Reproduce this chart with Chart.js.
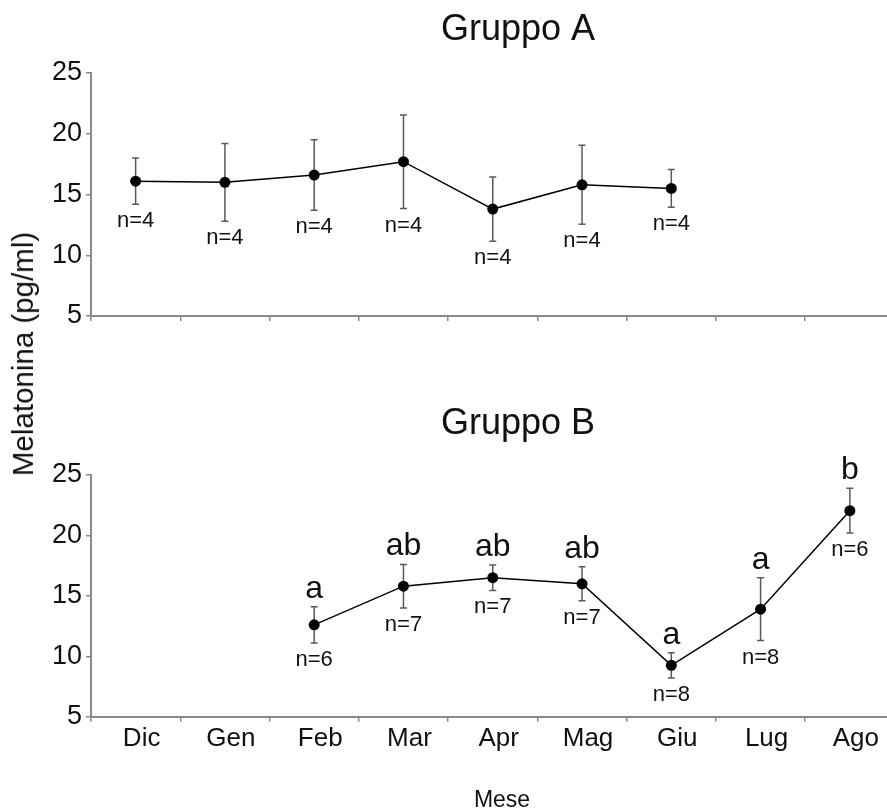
<!DOCTYPE html>
<html>
<head>
<meta charset="utf-8">
<script src="https://cdn.jsdelivr.net/npm/chart.js@4.4.1/dist/chart.umd.min.js"></script>
<style>
html, body { margin: 0; padding: 0; background: #fff; overflow: hidden; }
#wrap { position: relative; width: 887px; height: 810px; overflow: hidden; }
canvas { position: absolute; left: 0; }
#chartA { top: 0; }
#chartB { top: 400px; }
#ylabel {
    position: absolute; left: 23px; top: 354px;
    transform: translate(-50%, -50%) rotate(-90deg);
    font: 29.5px "Liberation Sans", Arial, sans-serif; color: #111; white-space: nowrap;
}
</style>
</head>
<body>
<div id="wrap">
    <canvas id="chartA" width="900" height="340"></canvas>
    <canvas id="chartB" width="900" height="410"></canvas>
    <div id="ylabel">Melatonina (pg/ml)</div>
</div>
<script>
// mesi
const months = ["Dic", "Gen", "Feb", "Mar", "Apr", "Mag", "Giu", "Lug", "Ago"];
const yTicks = [5, 10, 15, 20, 25];

// Gruppo A: media, errore, numerosità
const meanA = [16.1, 16.0, 16.6, 17.7, 13.8, 15.8, 15.5, null, null];
const errA = [1.9, 3.2, 2.9, 3.85, 2.65, 3.25, 1.55, null, null];
const nA = [4, 4, 4, 4, 4, 4, 4, null, null];

// Gruppo B
const meanB = [null, null, 12.6, 15.8, 16.5, 16.0, 9.25, 13.9, 22.05];
const errB = [null, null, 1.5, 1.8, 1.05, 1.4, 1.05, 2.6, 1.85];
const nB = [null, null, 6, 7, 7, 7, 8, 8, 6];
const lettersB = [null, null, "a", "ab", "ab", "ab", "a", "a", "b"];

const fontFamily = '"Liberation Sans", Arial, sans-serif';
const axisGray = "#8a8a8a";

// barre d'errore, etichette n=, lettere e titoli
const errorBars = {
    id: "errorBars",
    beforeDatasetsDraw(chart, args, opts) {
        const { ctx, scales: { x, y } } = chart;
        const data = chart.data.datasets[0].data;
        ctx.save();
        ctx.strokeStyle = "#5a5a5a";
        ctx.lineWidth = 1.5;
        opts.errors.forEach((e, i) => {
            if (data[i] == null || e == null) return;
            const px = x.getPixelForValue(i);
            const top = y.getPixelForValue(data[i] + e);
            const bot = y.getPixelForValue(data[i] - e);
            ctx.beginPath();
            ctx.moveTo(px, top); ctx.lineTo(px, bot);
            ctx.moveTo(px - 3.5, top); ctx.lineTo(px + 3.5, top);
            ctx.moveTo(px - 3.5, bot); ctx.lineTo(px + 3.5, bot);
            ctx.stroke();
        });
        ctx.restore();
    },
    afterDatasetsDraw(chart, args, opts) {
        const { ctx, scales: { x, y } } = chart;
        const data = chart.data.datasets[0].data;
        ctx.save();
        ctx.fillStyle = "#111";
        ctx.textAlign = "center";
        opts.errors.forEach((e, i) => {
            if (data[i] == null) return;
            const px = x.getPixelForValue(i);
            if (opts.ns[i] != null) {
                ctx.font = "22px " + fontFamily;
                ctx.textBaseline = "middle";
                ctx.fillText("n=" + opts.ns[i], px, y.getPixelForValue(data[i] - e) + 17);
            }
            if (opts.letters && opts.letters[i]) {
                ctx.font = "32px " + fontFamily;
                ctx.textBaseline = "alphabetic";
                ctx.fillText(opts.letters[i], px, y.getPixelForValue(data[i] + e) - 9);
            }
        });
        ctx.font = "36px " + fontFamily;
        ctx.textBaseline = "alphabetic";
        ctx.fillText(opts.title, 518, opts.titleY);
        if (opts.xTitle) {
            ctx.font = "23px " + fontFamily;
            ctx.fillText(opts.xTitle, 502, opts.xTitleY);
        }
        ctx.restore();
    }
};

function makeChart(id, means, errors, ns, letters, title, showMonths, padTop, xHeight, titleY, xTitle) {
    return new Chart(document.getElementById(id), {
        type: "line",
        data: {
            labels: months,
            datasets: [{
                data: means,
                borderColor: "#000",
                borderWidth: 1.5,
                backgroundColor: "#000",
                pointRadius: 5.5,
                pointBorderWidth: 0,
                pointBackgroundColor: "#000",
                tension: 0
            }]
        },
        options: {
            responsive: false,
            animation: false,
            layout: { padding: { top: padTop, left: 0, right: 2, bottom: 0 } },
            plugins: {
                legend: { display: false },
                tooltip: { enabled: false },
                errorBars: {
                    errors: errors, ns: ns, letters: letters, title: title, titleY: titleY,
                    xTitle: xTitle, xTitleY: 407
                }
            },
            scales: {
                x: {
                    offset: true,
                    grid: { offset: true, drawOnChartArea: false, tickLength: 5, color: axisGray, lineWidth: 1.5 },
                    border: { color: axisGray, width: 2 },
                    ticks: {
                        display: showMonths,
                        color: "#111",
                        font: { family: fontFamily, size: 26 },
                        padding: 2,
                        labelOffset: 6,
                        maxRotation: 0,
                        autoSkip: false
                    },
                    afterFit(scale) { scale.height = xHeight; }
                },
                y: {
                    min: 5,
                    max: 25,
                    afterBuildTicks(scale) { scale.ticks = yTicks.map(v => ({ value: v })); },
                    grid: { drawOnChartArea: false, tickLength: 5, color: axisGray, lineWidth: 1.5 },
                    border: { color: axisGray, width: 2 },
                    ticks: { color: "#111", font: { family: fontFamily, size: 27 }, padding: 4 },
                    afterFit(scale) { scale.width = 91; }
                }
            }
        },
        plugins: [errorBars]
    });
}

makeChart("chartA", meanA, errA, nA, null, "Gruppo A", false, 73, 24, 40, null);
makeChart("chartB", meanB, errB, nB, lettersB, "Gruppo B", true, 75, 93.3, 34, "Mese");
</script>
</body>
</html>
